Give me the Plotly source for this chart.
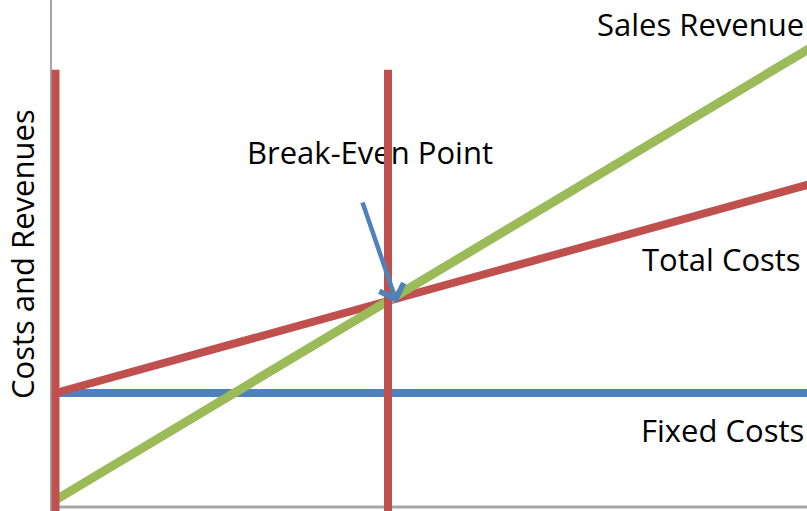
import plotly.graph_objects as go

# ---- data ----
quantity = [0, 100]
sales_revenue = [0, 423]
total_costs = [100, 295.5]
fixed_costs = [100, 100]
break_even_qty = 44
marker_top = 402

RED = "#C0504D"
GREEN = "#9BBB59"
BLUE = "#4F81BD"
GRAY = "#A6A6A6"
FONT = "Open Sans"
FS = 31

# pixel -> data helpers (layout placement only)
W, H = 807, 511
L = 51
X0PX, XSCALE = 55.5, 7.557
Y0PX, YSCALE = 500.0, 1.07
def px2x(p):
    return (p - X0PX) / XSCALE
def px2y(p):
    return (Y0PX - p) / YSCALE

xr = [px2x(L), px2x(W)]
yr = [px2y(H), px2y(0)]

fig = go.Figure()

# label under the red vertical line (drawn as a text trace so lines cover it)
fig.add_trace(go.Scatter(x=[px2x(370)], y=[px2y(156)], mode="text",
                         text=["Break-Even Point"], textposition="middle center",
                         textfont=dict(family=FONT, size=FS, color="black"),
                         hoverinfo="skip", showlegend=False))

fig.add_trace(go.Scatter(x=quantity, y=fixed_costs, mode="lines",
                         line=dict(color=BLUE, width=8), showlegend=False))
fig.add_trace(go.Scatter(x=quantity, y=total_costs, mode="lines",
                         line=dict(color=RED, width=8), showlegend=False))
fig.add_trace(go.Scatter(x=quantity, y=sales_revenue, mode="lines",
                         line=dict(color=GREEN, width=9), showlegend=False))
for q in [0, break_even_qty]:
    fig.add_trace(go.Scatter(x=[q, q], y=[yr[0] - 5, marker_top], mode="lines",
                             line=dict(color=RED, width=8), showlegend=False))

# axis lines
fig.add_shape(type="line", xref="paper", yref="y", x0=0, x1=1,
              y0=px2y(507), y1=px2y(507), line=dict(color=GRAY, width=3), layer="below")
fig.add_shape(type="line", xref="paper", yref="paper", x0=0, x1=0,
              y0=0, y1=1, line=dict(color=GRAY, width=2), layer="below")

def label(text, cx, cy):
    fig.add_annotation(x=px2x(cx), y=px2y(cy), xref="x", yref="y", text=text,
                       showarrow=False, xanchor="center", yanchor="middle",
                       font=dict(family=FONT, size=FS, color="black"))

label("Sales Revenue", 700, 24)
label("Total Costs", 721, 259)
label("Fixed Costs", 722, 430)

# arrow
fig.add_annotation(x=px2x(397), y=px2y(303), xref="x", yref="y",
                   ax=-35, ay=-102, axref="pixel", ayref="pixel",
                   showarrow=True, arrowhead=4, arrowsize=1.1, arrowwidth=4.5,
                   arrowcolor=BLUE, text="")

# y-axis title
fig.add_annotation(x=(22 - L) / (W - L), y=1 - 254 / H, xref="paper", yref="paper",
                   text="Costs and Revenues", textangle=-90, showarrow=False,
                   xanchor="center", yanchor="middle",
                   font=dict(family=FONT, size=FS, color="black"))

fig.update_layout(
    width=W, height=H,
    margin=dict(l=L, r=0, t=0, b=0),
    paper_bgcolor="white", plot_bgcolor="white",
    xaxis=dict(range=xr, visible=False, fixedrange=True),
    yaxis=dict(range=yr, visible=False, fixedrange=True),
    showlegend=False,
)

fig.write_html("out.html", config={"displayModeBar": False},
               post_script="document.body.style.margin='0';document.body.style.overflow='hidden';")
